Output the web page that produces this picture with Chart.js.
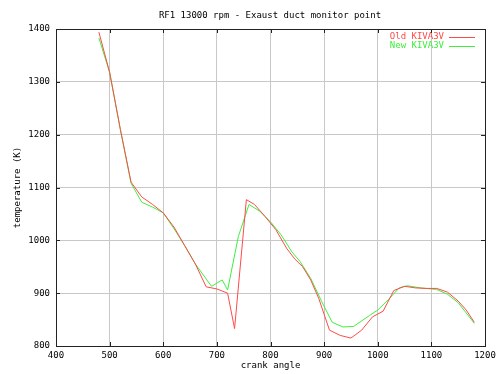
<!DOCTYPE html>
<html>
<head>
<meta charset="utf-8">
<script src="https://cdn.jsdelivr.net/npm/chart.js@4.4.1/dist/chart.umd.min.js"></script>
<style>
html,body{margin:0;padding:0;background:#fff;}
#c{display:block;}
</style>
</head>
<body>
<canvas id="c" width="499" height="374"></canvas>
<script>
const titleText = "RF1 13000 rpm - Exaust duct monitor point";
const xTitle = "crank angle";
const yTitle = "temperature (K)";
const seriesNames = ["Old KIVA3V", "New KIVA3V"];
const xTicks = [400,500,600,700,800,900,1000,1100,1200];
const yTicks = [800,900,1000,1100,1200,1300,1400];

const oldX = [480,500,520,540,560,580,600,620,640,660,680,700,720,733,755,770,790,810,830,845,860,875,890,910,930,950,970,990,1010,1030,1050,1070,1090,1110,1130,1150,1165,1180];
const oldY = [1394,1318,1210,1110,1082,1068,1052,1025,990,955,912,908,900,833,1077,1068,1045,1020,985,965,950,925,890,830,820,815,830,855,866,905,913,910,909,909,902,885,868,845];
const newX = [480,500,520,540,560,580,600,620,640,660,690,710,720,740,760,780,800,820,840,855,875,895,915,935,955,985,1000,1020,1040,1055,1080,1110,1130,1150,1180];
const newY = [1383,1318,1210,1108,1072,1063,1052,1022,990,955,913,925,906,1007,1068,1055,1035,1010,978,960,928,885,845,836,837,858,868,888,910,914,910,907,898,882,843];

const colors = ["#ff4a4a", "#3ef03e"];
const FONT = "'DejaVu Sans Mono', monospace";

function pts(xs, ys){ return xs.map((x,i)=>({x:x, y:ys[i]})); }

const decor = {
  id:'decor',
  afterDraw(chart){
    const ctx = chart.ctx, a = chart.chartArea;
    const xs = chart.scales.x, ys = chart.scales.y;
    ctx.save();
    ctx.strokeStyle = '#222';
    ctx.lineWidth = 1;
    ctx.strokeRect(Math.round(a.left)+0.5, Math.round(a.top)+0.5, Math.round(a.right-a.left), Math.round(a.bottom-a.top));
    ctx.beginPath();
    xTicks.forEach(v=>{
      const px = Math.round(xs.getPixelForValue(v))+0.5;
      ctx.moveTo(px, a.top); ctx.lineTo(px, a.top+4);
      ctx.moveTo(px, a.bottom); ctx.lineTo(px, a.bottom-4);
    });
    yTicks.forEach(v=>{
      const py = Math.round(ys.getPixelForValue(v))+0.5;
      ctx.moveTo(a.left, py); ctx.lineTo(a.left+4, py);
      ctx.moveTo(a.right, py); ctx.lineTo(a.right-4, py);
    });
    ctx.stroke();
    ctx.fillStyle = '#000';
    ctx.font = "9px " + FONT;
    ctx.textAlign = 'center';
    ctx.textBaseline = 'middle';
    ctx.fillText(titleText, 270, 16);
    ctx.fillText(xTitle, (a.left+a.right)/2, 366);
    ctx.save();
    ctx.translate(18, (a.top+a.bottom)/2);
    ctx.rotate(-Math.PI/2);
    ctx.fillText(yTitle, 0, 0);
    ctx.restore();
    chart.data.datasets.forEach((ds,i)=>{
      const y = 37 + i*8.5;
      ctx.fillStyle = ds.borderColor;
      ctx.textAlign = 'right';
      ctx.fillText(ds.label, 444, y);
      ctx.strokeStyle = ds.borderColor;
      ctx.beginPath();
      ctx.moveTo(449, Math.round(y)+0.5); ctx.lineTo(475, Math.round(y)+0.5);
      ctx.stroke();
    });
    ctx.restore();
  }
};

new Chart(document.getElementById('c'), {
  type:'line',
  data:{
    datasets:[
      {label:seriesNames[0], data:pts(oldX,oldY), borderColor:colors[0], borderWidth:1, pointRadius:0, tension:0, fill:false},
      {label:seriesNames[1], data:pts(newX,newY), borderColor:colors[1], borderWidth:1, pointRadius:0, tension:0, fill:false}
    ]
  },
  options:{
    responsive:false,
    animation:false,
    devicePixelRatio:1,
    layout:{padding:{left:0, top:29, right:14, bottom:0}},
    plugins:{legend:{display:false}, title:{display:false}, tooltip:{enabled:false}},
    scales:{
      x:{
        type:'linear', min:400, max:1200,
        afterBuildTicks(s){ s.ticks = xTicks.map(v=>({value:v})); },
        afterFit(s){ s.height = 28; s.paddingLeft = 0; s.paddingRight = 0; },
        grid:{color:'#c8c8c8', lineWidth:1, drawTicks:false},
        border:{display:false},
        ticks:{font:{family:FONT, size:9}, color:'#000', padding:4, maxRotation:0, autoSkip:false, callback:v=>String(v)}
      },
      y:{
        type:'linear', min:800, max:1400,
        afterBuildTicks(s){ s.ticks = yTicks.map(v=>({value:v})); },
        afterFit(s){ s.width = 56; s.paddingTop = 0; s.paddingBottom = 0; },
        grid:{color:'#c8c8c8', lineWidth:1, drawTicks:false},
        border:{display:false},
        ticks:{font:{family:FONT, size:9}, color:'#000', padding:6, callback:v=>String(v)}
      }
    }
  },
  plugins:[decor]
});
</script>
</body>
</html>
